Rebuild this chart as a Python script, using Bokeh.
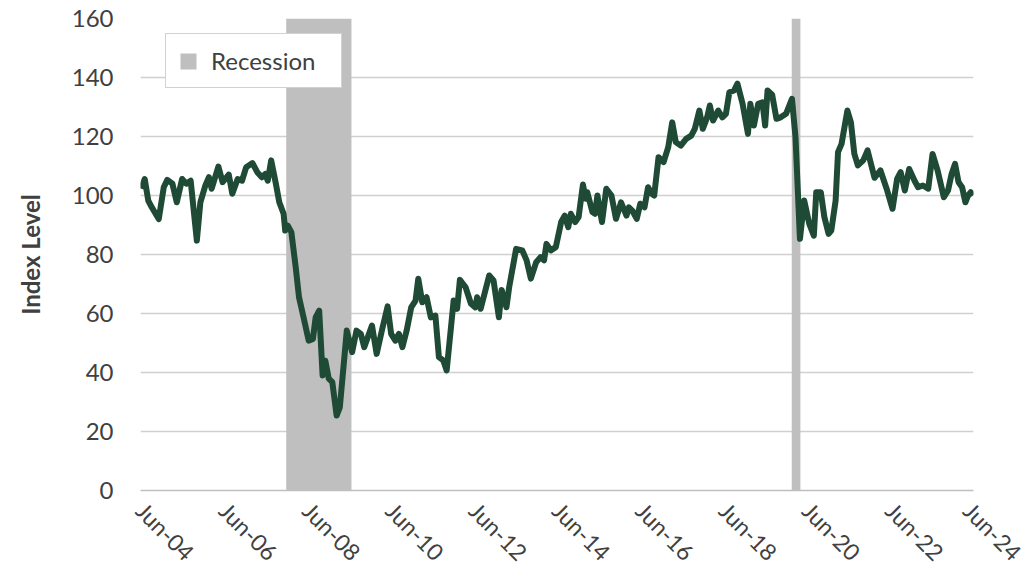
import math
import pandas as pd
from bokeh.plotting import figure
from bokeh.models import Range1d, FixedTicker, DatetimeTickFormatter
from bokeh.embed import file_html
from bokeh.resources import INLINE

# ---- data ----
dates = [
    "2004-06-08", "2004-07-08", "2004-08-08", "2004-09-08", "2004-11-08", "2004-12-22", "2005-01-22", "2005-03-08",
    "2005-04-15", "2005-06-01", "2005-07-08", "2005-08-15", "2005-10-08", "2005-11-08", "2005-12-22", "2006-01-22",
    "2006-02-15", "2006-04-15", "2006-05-22", "2006-07-15", "2006-08-15", "2006-10-01", "2006-11-08", "2006-12-15",
    "2007-02-08", "2007-03-22", "2007-05-01", "2007-06-01", "2007-06-22", "2007-07-22", "2007-09-01", "2007-10-01",
    "2007-11-08", "2007-11-22", "2007-12-15",
    "2008-01-15", "2008-02-22", "2008-03-22", "2008-05-01", "2008-06-15", "2008-07-22", "2008-08-15", "2008-09-15",
    "2008-10-15", "2008-11-08", "2008-12-08", "2009-01-08", "2009-02-15", "2009-03-15", "2009-05-15", "2009-07-01",
    "2009-08-08", "2009-09-15", "2009-10-15", "2009-12-22", "2010-02-01", "2010-03-22", "2010-05-08", "2010-06-08",
    "2010-07-15", "2010-08-15", "2010-09-15", "2010-10-22", "2010-12-01", "2011-01-08", "2011-02-01", "2011-03-08",
    "2011-04-15", "2011-05-22", "2011-07-01", "2011-08-01", "2011-09-08", "2011-10-08",
    "2011-11-15", "2011-12-08", "2012-01-08", "2012-02-01", "2012-03-22", "2012-05-08", "2012-06-15", "2012-07-01",
    "2012-08-01", "2012-10-15", "2012-11-22", "2013-01-08", "2013-02-01", "2013-03-15", "2013-04-08", "2013-06-08",
    "2013-08-01", "2013-09-08", "2013-10-15", "2013-12-01", "2014-01-08", "2014-02-08", "2014-03-01", "2014-04-08",
    "2014-05-22", "2014-07-08", "2014-08-08", "2014-09-08", "2014-10-01", "2014-11-08", "2014-12-08", "2015-01-15",
    "2015-02-08", "2015-02-22", "2015-04-08", "2015-05-01", "2015-05-22", "2015-07-01", "2015-08-08", "2015-09-22",
    "2015-11-01", "2015-12-15",
    "2016-02-01", "2016-02-22", "2016-03-22", "2016-05-01", "2016-06-01", "2016-07-08", "2016-08-08", "2016-09-08",
    "2016-10-01", "2016-11-08", "2016-12-22", "2017-02-01", "2017-03-08", "2017-04-08", "2017-05-22", "2017-07-08",
    "2017-08-22", "2017-09-22", "2017-11-01", "2017-12-01", "2018-01-08", "2018-02-01", "2018-03-01", "2018-04-15",
    "2018-05-22", "2018-06-22", "2018-07-22", "2018-09-01", "2018-10-01", "2018-11-15", "2019-01-01", "2019-01-22",
    "2019-02-22", "2019-04-01", "2019-05-08", "2019-06-01", "2019-06-22", "2019-08-01", "2019-09-08", "2019-10-15",
    "2019-12-01", "2020-01-22", "2020-02-22", "2020-04-01",
    "2020-05-08", "2020-06-22", "2020-08-01", "2020-08-22", "2020-10-01", "2020-11-01", "2020-12-08", "2021-01-01",
    "2021-02-08", "2021-03-01", "2021-04-01", "2021-05-22", "2021-06-22", "2021-07-22", "2021-08-22", "2021-10-08",
    "2021-11-15", "2021-12-15", "2022-01-15", "2022-03-08", "2022-05-01", "2022-06-22", "2022-08-01", "2022-09-01",
    "2022-10-08", "2022-11-15", "2023-01-01", "2023-02-01", "2023-03-15", "2023-05-01", "2023-06-08", "2023-07-22",
    "2023-09-15", "2023-10-22", "2023-11-22", "2023-12-22", "2024-01-22", "2024-02-22", "2024-03-22", "2024-04-15",
    "2024-05-08", "2024-05-28",
]

index_level = [
    102.3, 105.6, 98.3, 96, 92, 102.8, 105.3, 104, 97.7, 105.6, 104, 105, 84.7, 97.7, 103.4, 106.2, 102.3, 109.8,
    104.5, 107.1, 100.6, 105.6, 105, 109.6, 111, 107.9, 106.2, 107.3, 105, 111.9, 104, 97.7, 93.8, 88.1, 89.8,
    87.6, 75.7, 65.5, 58.7, 50.8, 51.4, 58.7, 61, 39, 44, 37.9, 36.7, 25.4, 28.2, 54.2, 46.9, 54.2, 53.1, 48.6,
    55.9, 46.3, 54.8, 62.4, 53.1, 50.8, 53.1, 48.6, 54.2, 62.1, 64.4, 71.8, 63.8, 65.5, 58.7, 59.3, 45.2, 44.1, 40.7,
    55.4, 64.4, 61.6, 71.4, 68.9, 63.3, 62.1, 65.5, 61.6, 72.9, 71.2, 58.7, 68, 62.1, 68.9, 81.9, 81.4, 78, 71.8,
    77.4, 79.1, 78, 83.6, 81.4, 82.5, 91, 93.2, 89.3, 93.8, 91, 92.7, 103.7, 98.9, 101.1, 94.4, 93.8, 100, 91,
    102.3, 100, 92.1, 97.7,
    93.2, 96, 94.9, 92.1, 97.2, 96, 102.8, 100.6, 100, 113, 111.3, 116.4, 124.8, 118.1, 116.9, 119.2, 120.3, 122.6,
    128.8, 122.6, 126.5, 130.5, 125.4, 128.8, 126.5, 127.7, 135, 135.6, 137.9, 131.1, 120.9, 131.1, 123.7, 131.1,
    131.6, 123.7, 135.6, 134.2, 126, 126.5, 127.7, 132.8, 119.8, 85.3,
    98.3, 90.4, 86.4, 101.1, 101.1, 92.7, 87, 88.1, 98.3, 114.7, 117.5, 128.8, 124.8, 114.1, 110.2, 111.9, 115.3,
    110.7, 106, 108.5, 102.3, 95.5, 105.6, 107.9, 101.7, 109, 105, 102.8, 103.4, 102.3, 114.1, 108.5, 99.4, 101.7,
    107.3, 110.7, 104.5, 102.8, 97.7, 100, 101.1, 100,
]

recession_start = ["2007-12-01", "2020-01-20"]
recession_end = ["2009-06-25", "2020-04-05"]

tick_years = list(range(2004, 2025, 2))
y_ticks = [0, 20, 40, 60, 80, 100, 120, 140, 160]
y_title = "Index Level"

# ---- figure ----
FONT = "Lato"
TXT = "#404040"

x = pd.to_datetime(dates)
rs = pd.to_datetime(recession_start)
re_ = pd.to_datetime(recession_end)

p = figure(
    width=1027, height=578, output_backend="svg", toolbar_location=None,
    x_axis_type="datetime",
    x_range=Range1d(pd.Timestamp("2004-06-01"), pd.Timestamp("2024-06-01")),
    y_range=Range1d(0, 160),
    min_border_left=140, min_border_right=54, min_border_top=18, min_border_bottom=88,
)
p.outline_line_color = None
p.background_fill_color = "white"
p.border_fill_color = "white"

p.quad(left=rs, right=re_, bottom=[0] * len(rs), top=[160] * len(rs),
       fill_color="#bfbfbf", line_color=None, legend_label="Recession")
p.line(x, index_level, line_color="#1f4a36", line_width=6, line_join="round")

# grid
p.xgrid.grid_line_color = None
p.ygrid.grid_line_color = "#d0d0d0"
p.ygrid.grid_line_width = 1.5
p.ygrid.ticker = FixedTicker(ticks=y_ticks)

# y axis
p.yaxis.ticker = FixedTicker(ticks=y_ticks)
p.yaxis.axis_line_color = None
p.yaxis.major_tick_line_color = None
p.yaxis.minor_tick_line_color = None
p.yaxis.major_tick_out = 0
p.yaxis.major_label_standoff = 27
p.yaxis.major_label_text_font = FONT
p.yaxis.major_label_text_font_size = "24px"
p.yaxis.major_label_text_color = TXT
p.yaxis.axis_label = y_title
p.yaxis.axis_label_text_font = FONT
p.yaxis.axis_label_text_font_style = "bold"
p.yaxis.axis_label_text_font_size = "24px"
p.yaxis.axis_label_text_color = TXT
p.yaxis.axis_label_standoff = 24

# x axis
tick_ms = [pd.Timestamp(f"{yr}-06-01").value / 1e6 for yr in tick_years]
p.xaxis.ticker = FixedTicker(ticks=tick_ms)
fmt = "%b-%y"
p.xaxis.formatter = DatetimeTickFormatter(years=fmt, months=fmt, days=fmt, hours=fmt,
                                          minutes=fmt, seconds=fmt, milliseconds=fmt,
                                          microseconds=fmt, minsec=fmt, hourmin=fmt)
p.xaxis.axis_line_color = "#bfbfbf"
p.xaxis.axis_line_width = 1.5
p.xaxis.major_tick_line_color = None
p.xaxis.minor_tick_line_color = None
p.xaxis.major_tick_out = 0
p.xaxis.major_label_standoff = 16
p.xaxis.major_label_orientation = -math.pi / 4
p.xaxis.major_label_text_font = FONT
p.xaxis.major_label_text_font_size = "23px"
p.xaxis.major_label_text_color = TXT

# legend
lg = p.legend[0]
lg.location = (25, 402)
lg.padding = 12
lg.spacing = 0
lg.margin = 0
lg.glyph_width = 20
lg.glyph_height = 20
lg.label_standoff = 13
lg.label_width = 118
lg.label_text_font = FONT
lg.label_text_font_size = "24px"
lg.label_text_color = TXT
lg.border_line_color = "#a6a6a6"
lg.border_line_width = 1
lg.background_fill_color = "white"
lg.background_fill_alpha = 1.0

open("out.html", "w").write(file_html(p, INLINE))
